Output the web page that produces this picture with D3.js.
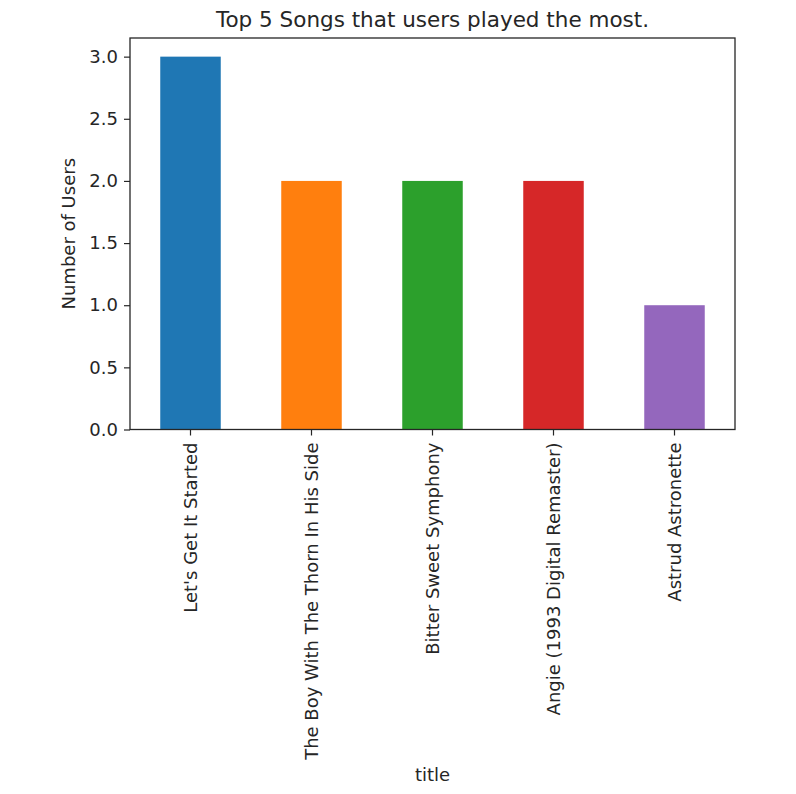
<!DOCTYPE html>
<html>
<head>
<meta charset="utf-8">
<script src="https://cdn.jsdelivr.net/npm/d3@7"></script>
<style>
  body { margin: 0; background: #fff; }
  text { font-family: "DejaVu Sans", sans-serif; fill: #262626; }
</style>
</head>
<body>
<div id="chart"></div>
<script>
const titles = [
  "Let's Get It Started",
  "The Boy With The Thorn In His Side",
  "Bitter Sweet Symphony",
  "Angie (1993 Digital Remaster)",
  "Astrud Astronette"
];
const users = [3, 2, 2, 2, 1];
const colors = ["#1f77b4", "#ff7f0e", "#2ca02c", "#d62728", "#9467bd"];
const yTicks = [0, 0.5, 1.0, 1.5, 2.0, 2.5, 3.0];

let width = 796;
let height = 794;
const plotLeft = 130, plotRight = 735, plotTop = 38, plotBottom = 429.5;

const svg = d3.select("#chart")
  .append("svg")
  .attr("width", width)
  .attr("height", height);

const x = d3.scaleBand()
  .domain(titles)
  .range([plotLeft, plotRight])
  .paddingInner(0.5)
  .paddingOuter(0.25);

const y = d3.scaleLinear()
  .domain([0, 3.15])
  .range([plotBottom, plotTop]);

svg.selectAll("rect.bar")
  .data(users)
  .join("rect")
  .attr("class", "bar")
  .attr("x", (d, i) => x(titles[i]))
  .attr("y", d => y(d))
  .attr("width", x.bandwidth())
  .attr("height", d => y(0) - y(d))
  .attr("fill", (d, i) => colors[i]);

const yAxis = svg.append("g")
  .attr("transform", `translate(${plotLeft},0)`)
  .call(d3.axisLeft(y).tickValues(yTicks).tickFormat(d3.format(".1f")).tickSize(6).tickPadding(6));

const xAxis = svg.append("g")
  .attr("transform", `translate(0,${plotBottom})`)
  .call(d3.axisBottom(x).tickSize(6).tickPadding(6));

xAxis.selectAll("text")
  .attr("transform", "rotate(-90)")
  .attr("text-anchor", "end")
  .attr("x", -13)
  .attr("y", 0)
  .attr("dy", "0.35em");

[xAxis, yAxis].forEach(g => {
  g.select(".domain").remove();
  g.selectAll("line").attr("stroke", "#262626").attr("stroke-width", 1.2);
  g.selectAll("text").style("font-size", "18px").attr("fill", "#262626");
});

// frame
svg.append("rect")
  .attr("x", plotLeft)
  .attr("y", plotTop)
  .attr("width", plotRight - plotLeft)
  .attr("height", plotBottom - plotTop)
  .attr("fill", "none")
  .attr("stroke", "#262626")
  .attr("stroke-width", 1.3);

svg.append("text")
  .attr("x", (plotLeft + plotRight) / 2)
  .attr("y", 27)
  .attr("text-anchor", "middle")
  .style("font-size", "21.5px")
  .text("Top 5 Songs that users played the most.");

svg.append("text")
  .attr("transform", `translate(${75},${(plotTop + plotBottom) / 2}) rotate(-90)`)
  .attr("text-anchor", "middle")
  .style("font-size", "18px")
  .text("Number of Users");

svg.append("text")
  .attr("x", (plotLeft + plotRight) / 2)
  .attr("y", 781)
  .attr("text-anchor", "middle")
  .style("font-size", "18px")
  .text("title");
</script>
</body>
</html>
